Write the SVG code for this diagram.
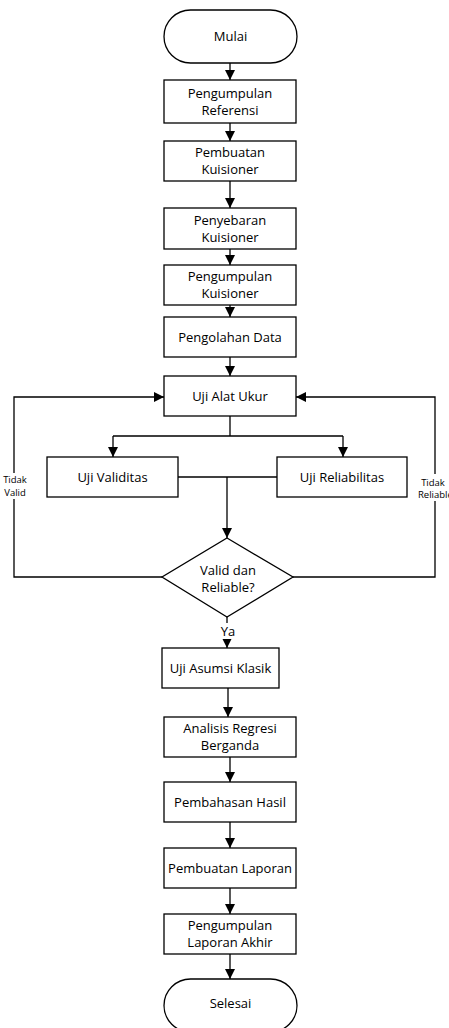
<svg xmlns="http://www.w3.org/2000/svg" width="449" height="1028" viewBox="0 0 449 1028">
<defs>
<marker id="ah" markerUnits="userSpaceOnUse" markerWidth="10" markerHeight="10" refX="10" refY="5" orient="auto">
<path d="M0,0 L10,5 L0,10 Z" fill="#000"/>
</marker>
</defs>
<style>
.n{fill:#fff;stroke:#000;stroke-width:1.3}
.t{font-family:"Open Sans","Noto Sans",sans-serif;font-size:13px;fill:#000;text-anchor:middle}
.s{font-family:"Open Sans","Noto Sans",sans-serif;font-size:9.5px;fill:#000;text-anchor:middle}
.sl{font-family:"Open Sans","Noto Sans",sans-serif;font-size:9.5px;fill:#000;text-anchor:start}
.c{fill:none;stroke:#000;stroke-width:1.3}
.a{marker-end:url(#ah)}
</style>
<rect width="449" height="1028" fill="#fff"/>
<g id="connectors">
<path class="c a" d="M230,63 V80"/>
<path class="c a" d="M230,123 V141"/>
<path class="c a" d="M230,181 V208"/>
<path class="c a" d="M230,249 V265"/>
<path class="c a" d="M230,305 V317"/>
<path class="c a" d="M230,357 V376"/>
<path class="c" d="M230,416 V436 M113,436 H343"/>
<path class="c a" d="M113,436 V457"/>
<path class="c a" d="M343,436 V457"/>
<path class="c" d="M178,477 H277"/>
<path class="c a" d="M227,477 V538"/>
<path class="c a" d="M162,577 H14 V397 H164"/>
<path class="c a" d="M293,577 H435 V397 H296"/>
<path class="c a" d="M227,617 V648"/>
<path class="c a" d="M228,688 V717"/>
<path class="c a" d="M230,757 V782"/>
<path class="c a" d="M230,822 V848"/>
<path class="c a" d="M230,888 V914"/>
<path class="c a" d="M230,954 V979"/>
<rect x="2" y="473" width="26" height="26" fill="#fff"/>
<text class="s" x="15" y="483">Tidak</text>
<text class="s" x="15" y="496">Valid</text>
<rect x="418" y="474" width="31" height="27" fill="#fff"/>
<text class="s" x="433" y="486">Tidak</text>
<text class="sl" x="418" y="498">Reliable</text>
<rect x="218" y="623" width="20" height="16" fill="#fff"/>
<text class="t" x="228" y="636">Ya</text>
</g>
<g id="mulai"><rect class="n" x="164" y="10" width="133" height="53" rx="26.5"/><text class="t" x="230.5" y="41">Mulai</text></g>
<g id="ref"><rect class="n" x="164" y="80" width="132" height="43"/><text class="t" x="230" y="98">Pengumpulan</text><text class="t" x="230" y="115">Referensi</text></g>
<g id="buat"><rect class="n" x="164" y="141" width="132" height="40"/><text class="t" x="230" y="157">Pembuatan</text><text class="t" x="230" y="174">Kuisioner</text></g>
<g id="sebar"><rect class="n" x="164" y="208" width="132" height="41"/><text class="t" x="230" y="225">Penyebaran</text><text class="t" x="230" y="242">Kuisioner</text></g>
<g id="kumpul"><rect class="n" x="164" y="265" width="132" height="40"/><text class="t" x="230" y="281">Pengumpulan</text><text class="t" x="230" y="298">Kuisioner</text></g>
<g id="olah"><rect class="n" x="164" y="317" width="132" height="40"/><text class="t" x="230" y="341.5">Pengolahan Data</text></g>
<g id="alat"><rect class="n" x="164" y="376" width="132" height="40"/><text class="t" x="230" y="400.5">Uji Alat Ukur</text></g>
<g id="validitas"><rect class="n" x="47" y="457" width="131" height="40"/><text class="t" x="112.5" y="481.5">Uji Validitas</text></g>
<g id="reliabilitas"><rect class="n" x="277" y="457" width="130" height="40"/><text class="t" x="342" y="481.5">Uji Reliabilitas</text></g>
<g id="decision"><path class="n" d="M227,538 L293,577 L227,617 L162,577 Z"/><text class="t" x="228" y="575">Valid dan</text><text class="t" x="228" y="592">Reliable?</text></g>
<g id="asumsi"><rect class="n" x="162" y="648" width="117" height="40"/><text class="t" x="220.5" y="672.5">Uji Asumsi Klasik</text></g>
<g id="regresi"><rect class="n" x="164" y="717" width="132" height="40"/><text class="t" x="230" y="733">Analisis Regresi</text><text class="t" x="230" y="750">Berganda</text></g>
<g id="bahas"><rect class="n" x="164" y="782" width="132" height="40"/><text class="t" x="230" y="806.5">Pembahasan Hasil</text></g>
<g id="laporan"><rect class="n" x="164" y="848" width="132" height="40"/><text class="t" x="230" y="872.5">Pembuatan Laporan</text></g>
<g id="akhir"><rect class="n" x="164" y="914" width="132" height="40"/><text class="t" x="230" y="930">Pengumpulan</text><text class="t" x="230" y="947">Laporan Akhir</text></g>
<g id="selesai"><rect class="n" x="164" y="979" width="133" height="53" rx="26.5"/><text class="t" x="230.5" y="1008">Selesai</text></g>
</svg>
